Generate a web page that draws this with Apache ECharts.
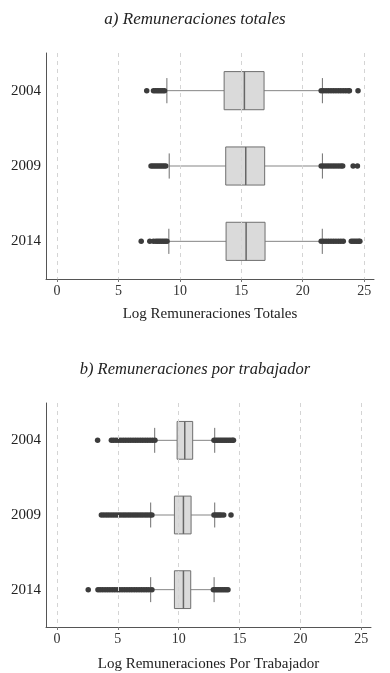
<!DOCTYPE html>
<html>
<head>
<meta charset="utf-8">
<script src="https://cdn.jsdelivr.net/npm/echarts@6/dist/echarts.min.js"></script>
<style>
  html, body { margin: 0; padding: 0; background: #fff; }
  #chart { width: 390px; height: 673px; }
</style>
</head>
<body>
<div id="chart"></div>
<script>
var years = ['2004', '2009', '2014']
var tickValues = [0, 5, 10, 15, 20, 25]

// [bigote inf, Q1, mediana, Q3, bigote sup] por año
var totalesCajas = [
  [8.94, 13.6, 15.25, 16.85, 21.6],
  [9.13, 13.73, 15.36, 16.9, 21.6],
  [9.1, 13.76, 15.39, 16.93, 21.59]
]
var trabajadorCajas = [
  [8.03, 9.87, 10.5, 11.15, 12.96],
  [7.7, 9.65, 10.39, 11.02, 12.96],
  [7.7, 9.65, 10.39, 10.99, 12.91]
]

// valores atipicos
var totalesAtip2004 = [7.3, 7.85, 8.0, 8.15, 8.3, 8.45, 8.6, 8.75, 21.5, 21.7, 21.9, 22.1, 22.3, 22.5, 22.7, 22.9, 23.1, 23.3, 23.5, 23.7, 23.8, 24.5]
var totalesAtip2009 = [7.65, 7.8, 7.95, 8.1, 8.25, 8.4, 8.55, 8.7, 8.85, 21.5, 21.7, 21.9, 22.1, 22.3, 22.5, 22.7, 22.9, 23.1, 23.25, 24.1, 24.45]
var totalesAtip2014 = [6.85, 7.55, 7.85, 8.05, 8.2, 8.35, 8.5, 8.65, 8.8, 8.95, 21.5, 21.7, 21.9, 22.1, 22.3, 22.5, 22.7, 22.9, 23.1, 23.3, 23.95, 24.1, 24.25, 24.4, 24.55, 24.65]
var trabajadorAtip2004 = [3.34, 4.47, 4.65, 4.85, 5.05, 5.25, 5.45, 5.65, 5.85, 6.05, 6.25, 6.45, 6.65, 6.85, 7.05, 7.25, 7.45, 7.65, 7.85, 8.05, 12.9, 13.05, 13.2, 13.35, 13.5, 13.65, 13.8, 13.95, 14.1, 14.25, 14.4, 14.5]
var trabajadorAtip2009 = [3.65, 3.85, 4.05, 4.25, 4.45, 4.65, 4.85, 5.05, 5.25, 5.45, 5.65, 5.85, 6.05, 6.25, 6.45, 6.65, 6.85, 7.05, 7.25, 7.45, 7.65, 7.8, 12.9, 13.05, 13.2, 13.35, 13.5, 13.7, 14.3]
var trabajadorAtip2014 = [2.57, 3.37, 3.55, 3.75, 3.95, 4.15, 4.35, 4.55, 4.75, 4.95, 5.15, 5.35, 5.55, 5.75, 5.95, 6.15, 6.35, 6.55, 6.75, 6.95, 7.15, 7.35, 7.55, 7.8, 12.85, 13.0, 13.15, 13.3, 13.45, 13.6, 13.75, 13.9, 14.05]

var serif = 'Liberation Serif'

function boxRows(cajas) {
  return cajas.map(function (c, i) { return [i].concat(c) })
}

function outlierRows(lists) {
  var rows = []
  lists.forEach(function (list, i) {
    list.forEach(function (v) { rows.push([v, i]) })
  })
  return rows
}

function renderBox(params, api) {
  var cat = api.value(0)
  var lo = api.coord([api.value(1), cat])
  var q1 = api.coord([api.value(2), cat])
  var med = api.coord([api.value(3), cat])
  var q3 = api.coord([api.value(4), cat])
  var hi = api.coord([api.value(5), cat])
  var band = api.size([0, 1])[1]
  var hb = band * 0.253
  var hc = band * 0.167
  var y = lo[1]
  var whisker = { stroke: '#858585', lineWidth: 1 }
  var edge = { stroke: '#6f6f6f', lineWidth: 1 }
  return {
    type: 'group',
    children: [
      { type: 'line', shape: { x1: lo[0], y1: y, x2: q1[0], y2: y }, style: whisker },
      { type: 'line', shape: { x1: q3[0], y1: y, x2: hi[0], y2: y }, style: whisker },
      { type: 'line', shape: { x1: lo[0], y1: y - hc, x2: lo[0], y2: y + hc }, style: edge },
      { type: 'line', shape: { x1: hi[0], y1: y - hc, x2: hi[0], y2: y + hc }, style: edge },
      { type: 'rect', shape: { x: q1[0], y: y - hb, width: q3[0] - q1[0], height: 2 * hb },
        style: { fill: '#dadada', stroke: '#6f6f6f', lineWidth: 1 } },
      { type: 'line', shape: { x1: med[0], y1: y - hb, x2: med[0], y2: y + hb },
        style: { stroke: '#666', lineWidth: 1.5 } }
    ]
  }
}

function xAxisFor(gridIndex, name, nameGap) {
  return {
    type: 'value',
    gridIndex: gridIndex,
    min: -0.9,
    max: 25.8,
    name: name,
    nameLocation: 'middle',
    nameGap: nameGap,
    nameTextStyle: { fontFamily: serif, fontSize: 15, color: '#222' },
    axisLine: { show: true, onZero: false, lineStyle: { color: '#555', width: 1 } },
    axisTick: { show: true, length: 3, customValues: tickValues, lineStyle: { color: '#777' } },
    axisLabel: { customValues: tickValues, fontFamily: serif, fontSize: 14, color: '#333', margin: 5 },
    splitLine: { show: false }
  }
}

function yAxisFor(gridIndex) {
  return {
    type: 'category',
    gridIndex: gridIndex,
    data: years,
    inverse: true,
    axisLine: { show: true, onZero: false, lineStyle: { color: '#555', width: 1 } },
    axisTick: { show: false },
    axisLabel: { fontFamily: serif, fontSize: 15, color: '#222', margin: 5 },
    splitLine: { show: false }
  }
}

var gridLines = {
  silent: true,
  symbol: 'none',
  label: { show: false },
  lineStyle: { type: [4, 4], color: '#d4d4d4', width: 1 },
  data: tickValues.map(function (v) { return { xAxis: v } })
}

var chart = echarts.init(document.getElementById('chart'))

chart.setOption({
  animation: false,
  title: [
    { text: 'a) Remuneraciones totales', left: 'center', top: 6,
      textStyle: { fontFamily: serif, fontStyle: 'italic', fontWeight: 'normal', fontSize: 17, color: '#222' } },
    { text: 'b) Remuneraciones por trabajador', left: 'center', top: 356,
      textStyle: { fontFamily: serif, fontStyle: 'italic', fontWeight: 'normal', fontSize: 16.5, color: '#222' } }
  ],
  grid: [
    { left: 46, right: 16, top: 53, bottom: 394 },
    { left: 46, right: 19, top: 403, bottom: 45 }
  ],
  xAxis: [
    xAxisFor(0, 'Log Remuneraciones Totales', 28),
    xAxisFor(1, 'Log Remuneraciones Por Trabajador', 30)
  ],
  yAxis: [yAxisFor(0), yAxisFor(1)],
  series: [
    {
      type: 'custom',
      xAxisIndex: 0,
      yAxisIndex: 0,
      renderItem: renderBox,
      encode: { x: [1, 2, 3, 4, 5], y: 0 },
      data: boxRows(totalesCajas),
      z: 3
    },
    {
      type: 'scatter',
      xAxisIndex: 0,
      yAxisIndex: 0,
      symbolSize: 5.5,
      itemStyle: { color: '#3c3c3c', opacity: 1 },
      data: outlierRows([totalesAtip2004, totalesAtip2009, totalesAtip2014]),
      markLine: gridLines,
      z: 4
    },
    {
      type: 'custom',
      xAxisIndex: 1,
      yAxisIndex: 1,
      renderItem: renderBox,
      encode: { x: [1, 2, 3, 4, 5], y: 0 },
      data: boxRows(trabajadorCajas),
      z: 3
    },
    {
      type: 'scatter',
      xAxisIndex: 1,
      yAxisIndex: 1,
      symbolSize: 5.5,
      itemStyle: { color: '#3c3c3c', opacity: 1 },
      data: outlierRows([trabajadorAtip2004, trabajadorAtip2009, trabajadorAtip2014]),
      markLine: gridLines,
      z: 4
    }
  ]
})
</script>
</body>
</html>
